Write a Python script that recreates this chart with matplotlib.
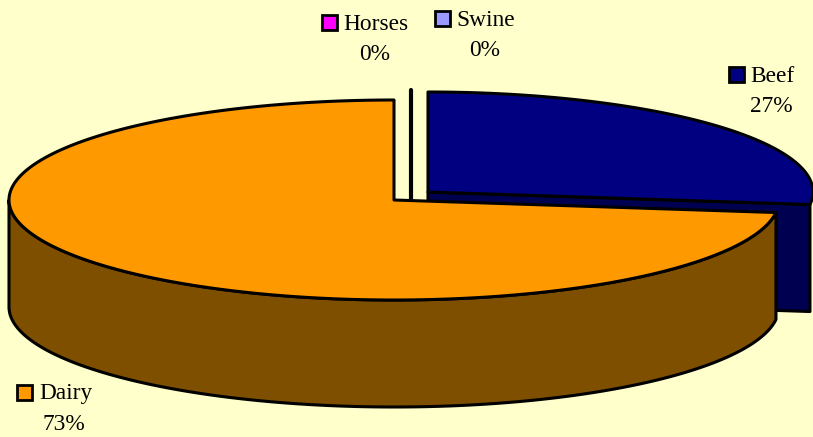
import numpy as np
import matplotlib
matplotlib.use('Agg')
import matplotlib.pyplot as plt
from matplotlib.patches import Polygon, Rectangle

# chart values
categories = ['Beef', 'Dairy', 'Horses', 'Swine']
values = [27, 73, 0, 0]
percent_labels = ['27%', '73%', '0%', '0%']

top_colors = ['#000080', '#ff9900', '#ff00ff', '#9999ff']
side_colors = ['#000050', '#7f4f00', '#800080', '#4d4d80']
bg = '#ffffcc'

# pie geometry in pixels
rx, ry, depth = 385, 100, 107
centers = {'Beef': (428, 192), 'Dairy': (394, 200)}
zero_line = (411, 200)
legend_pos = {
    'Beef': (729, 67, 750, 76, 771, 106),
    'Dairy': (17, 385, 39, 394, 64, 424),
    'Horses': (322, 15, 343, 24, 375, 54),
    'Swine': (435, 11, 456, 20, 485, 50),
}

fig = plt.figure(figsize=(8.13, 4.37), dpi=100, facecolor=bg)
ax = fig.add_axes([0, 0, 1, 1])
ax.set_xlim(0, 813)
ax.set_ylim(437, 0)
ax.axis('off')
plt.rcParams['font.family'] = 'Liberation Serif'


def rim(center, a0, a1, dy=0):
    # angles are clockwise from 12 o'clock
    t = np.radians(np.linspace(a0, a1, 300))
    return np.column_stack([center[0] + rx * np.sin(t),
                            center[1] - ry * np.cos(t) + dy])


def poly(pts, color, z):
    ax.add_patch(Polygon(pts, closed=True, facecolor=color, edgecolor='black',
                         linewidth=2.2, joinstyle='round', zorder=z))


angles = np.cumsum([0] + values) / sum(values) * 360

# beef slice, behind dairy
c = centers['Beef']
beef_top = rim(c, angles[0], angles[1])
end = beef_top[-1]
poly([c, end, (end[0], end[1] + depth), (c[0], c[1] + depth)], side_colors[0], 1)
poly(np.vstack([[c], beef_top]), top_colors[0], 2)

# dairy slice
c = centers['Dairy']
wall_end = 270
wall_top = rim(c, angles[1], wall_end)
wall_bot = rim(c, angles[1], wall_end, depth)
poly(np.vstack([wall_top, wall_bot[::-1]]), side_colors[1], 3)
poly(np.vstack([[c], rim(c, angles[1], angles[2])]), top_colors[1], 4)

# the two zero slices collapse to one line
ax.plot([zero_line[0], zero_line[0]], [zero_line[1], zero_line[1] - 110],
        color='black', lw=3, zorder=2, solid_capstyle='round')

for name, color, pct in zip(categories, top_colors, percent_labels):
    mx, my, tx, ty, px, py = legend_pos[name]
    ax.add_patch(Rectangle((mx, my), 15, 15, facecolor=color, edgecolor='black',
                           linewidth=2, zorder=5))
    ax.text(tx, ty, name, fontsize=16.8, color='black', va='center', ha='left',
            family='Liberation Serif', zorder=5)
    ax.text(px, py, pct, fontsize=16.8, color='black', va='center', ha='center',
            family='Liberation Serif', zorder=5)

fig.savefig('out.png', dpi=100, facecolor=bg)
